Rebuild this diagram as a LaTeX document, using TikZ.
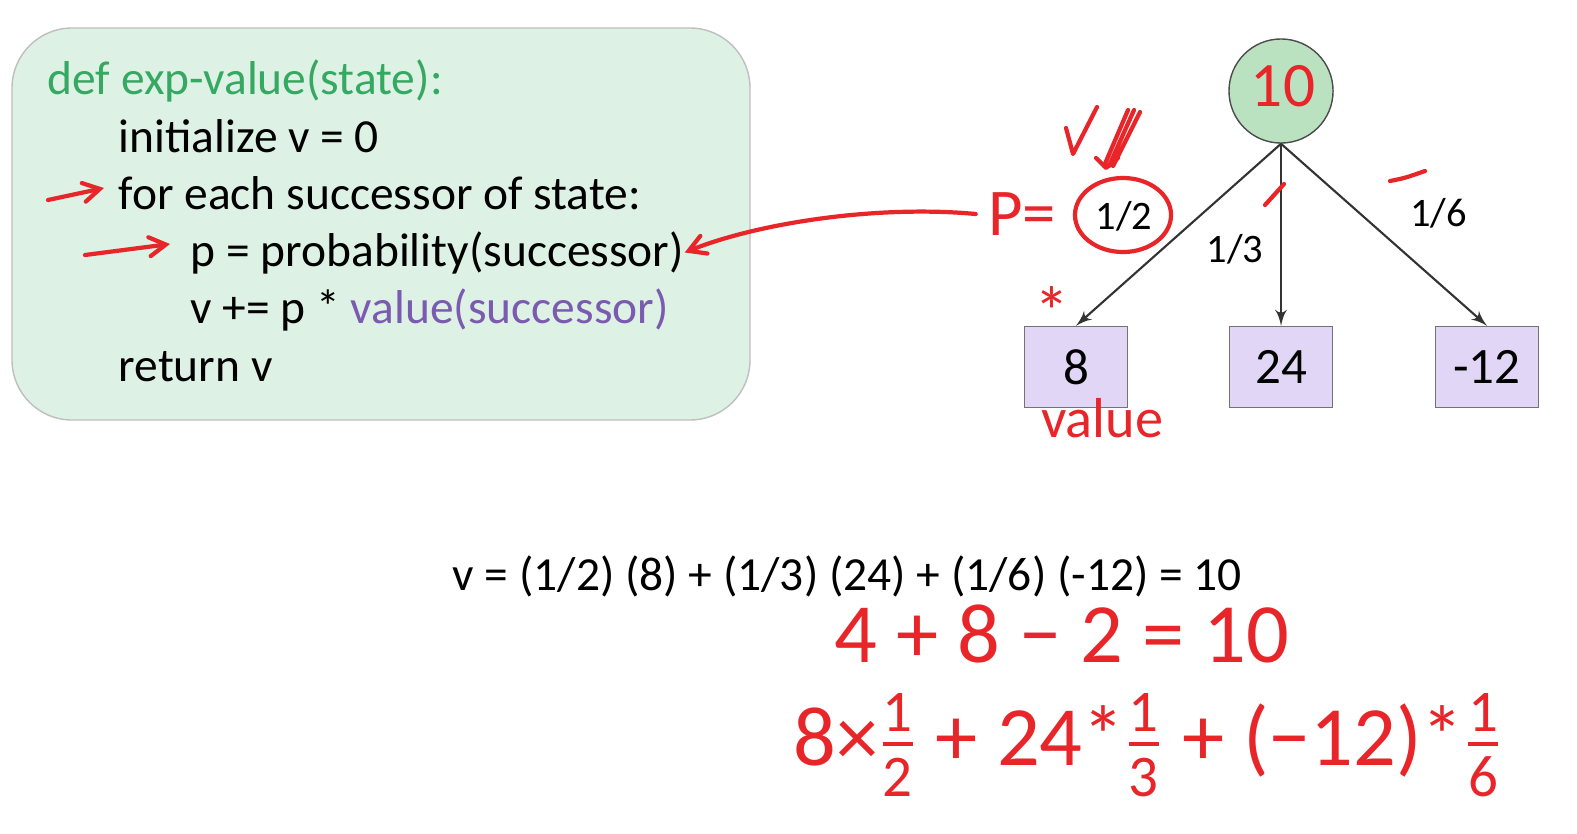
\documentclass[tikz,border=0pt]{standalone}
\usepackage{amsmath}
\usepackage{fontspec}
\setmainfont{Carlito}
\usetikzlibrary{arrows}

\definecolor{boxgreen}{HTML}{DEF1E5}
\definecolor{nodegreen}{HTML}{BAE2C1}
\definecolor{leafpurple}{HTML}{E2D6F7}
\definecolor{defgreen}{HTML}{35A862}
\definecolor{callpurple}{HTML}{7B5BB0}
\definecolor{penred}{HTML}{E8262A}

\newcommand{\hfrac}[2]{\ensuremath{\tfrac{\text{#1}}{\text{#2}}}}

\begin{document}
\begin{tikzpicture}[x=0.01cm,y=-0.01cm]
\tikzset{edge/.style = {->,> = latex', black!80, line width=0.6pt}}
\tikzset{code/.style = {anchor=base west, inner sep=0pt, font=\fontsize{13.5}{16}\selectfont}}
\tikzset{leaf/.style = {draw=black!55, fill=leafpurple, minimum width=1.03cm, minimum height=0.81cm, font=\fontsize{14.5}{17}\selectfont}}
\tikzset{pen/.style = {draw=penred, line width=1.2pt, line cap=round, line join=round}}
\tikzset{ink/.style = {text=penred, font=\itshape}}

\useasboundingbox (0,0) rectangle (1577,833);

% pseudo code box
\draw[rounded corners=0.6cm, fill=boxgreen, draw=black!25] (12,28) rectangle (750,420);
\node[code, text=defgreen] (l1) at (47,94) {def exp-value(state):};
\node[code] (l2) at (118,152) {initialize v = 0};
\node[code] (l3) at (118,209) {for each successor of state:};
\node[code] (l4) at (190,266) {p = probability(successor)};
\node[code] (l5) at (190,323) {v += p * \textcolor{callpurple}{value(successor)}};
\node[code] (l6) at (118,381) {return v};

% tree
\node[shape=circle, draw=black!70, fill=nodegreen, minimum size=1.04cm] (root) at (1281,91) {};
\node[leaf] (b8) at (1076,367) {8};
\node[leaf] (b24) at (1281,367) {24};
\node[leaf] (b12) at (1487,367) {-12};

\path [edge, font=\fontsize{11.5}{13}\selectfont]
(root.south) edge node[pos=0.4, left=0.34cm, text=black] (p2) {1/2} (b8.north)
(root.south) edge node[pos=0.58, left=0.05cm, text=black] (p3) {1/3} (b24.north)
(root.south) edge node[pos=0.38, right=0.38cm, text=black] (p6) {1/6} (b12.north)
;

\node[anchor=base west, inner sep=0pt, font=\fontsize{13.5}{16}\selectfont] (sum) at (452,590)
  {v = (1/2) (8) + (1/3) (24) + (1/6) (-12) = 10};

% handwritten notes
\node[ink, font=\fontsize{18}{22}\selectfont] (ten) at (1283,86) {10};
\node[ink, font=\fontsize{19}{22}\selectfont] (pe) at (1022,214) {P=};
\node[ink, font=\fontsize{16}{20}\selectfont] (val) at (1102,418) {value};
\node[ink, font=\fontsize{20}{24}\selectfont] (star) at (1052,312) {*};
\node[ink, font=\fontsize{24}{28}\selectfont] (red1) at (1062,634) {4 + 8 − 2 = 10};
\node[ink, font=\fontsize{24}{28}\selectfont] (red2) at (1148,745)
  {8×\hfrac{1}{2} + 24*\hfrac{1}{3} + (−12)*\hfrac{1}{6}};

\coordinate (a1) at (48,200);
\coordinate (t1) at (104,188);
\coordinate (a2) at (85,255);
\coordinate (t2) at (170,244);
\draw[pen, -angle 60] (a1) -- (t1);
\draw[pen, -angle 60] (a2) -- (t2);
\draw[pen, -angle 60] (pe.west) .. controls (880,205) and (760,222) .. (l4.east);

\draw[pen] (1123,215) ellipse (0.48cm and 0.37cm);
\draw[pen] (1066,128) -- (1073,154) -- (1097,107);
\draw[pen] (1128,110) -- (1104,166) (1134,110) -- (1109,166) (1140,112) -- (1113,166);
\draw[pen] (1096,158) -- (1106,168) -- (1118,158);
\draw[pen] (1265,205) -- (1284,184);
\draw[pen] (1390,181) .. controls (1405,178) .. (1425,171);

\end{tikzpicture}
\end{document}
